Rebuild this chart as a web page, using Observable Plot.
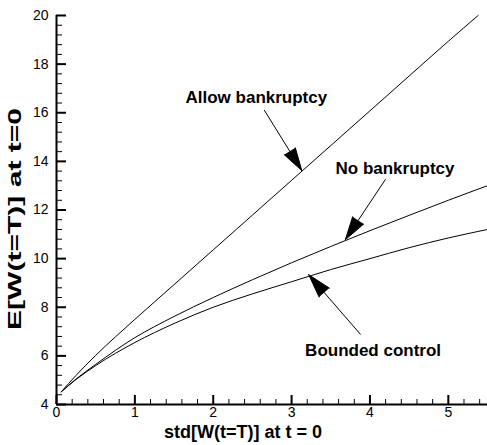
<!DOCTYPE html>
<html>
<head>
<meta charset="utf-8">
<script src="https://cdn.jsdelivr.net/npm/d3@7"></script>
<script src="https://cdn.jsdelivr.net/npm/@observablehq/plot@0.6"></script>
<style>
  body { margin: 0; background: #fff; }
  #chart svg { display: block; }
</style>
</head>
<body>
<div id="chart"></div>
<script>
// ---- data ----
const allowStd  = [0.06, 0.25, 0.5, 1, 1.5, 2, 2.5, 3, 3.5, 4, 4.5, 5, 5.38];
const allowMean = [4.52, 5.2, 6.02, 7.5, 8.93, 10.36, 11.79, 13.22, 14.65, 16.08, 17.51, 18.94, 20.0];

const curveStd    = [0.06, 0.25, 0.5, 1, 1.5, 2, 2.5, 3, 3.5, 4, 4.5, 5, 5.5];
const noBankMean  = [4.52, 5.05, 5.65, 6.75, 7.62, 8.4, 9.13, 9.83, 10.5, 11.15, 11.78, 12.4, 13.0];
const boundedMean = [4.52, 5.03, 5.6, 6.55, 7.33, 8.0, 8.55, 9.05, 9.55, 10.0, 10.45, 10.85, 11.2];

// annotations (data units)
const annLabels = ["Allow bankruptcy", "No bankruptcy", "Bounded control"];
const annLabelX = [2.55, 4.32, 4.04];
const annLabelY = [16.63, 13.71, 6.23];
const arrowX1 = [2.653, 4.196, 3.878];
const arrowY1 = [16.10, 13.25, 6.89];
const arrowX2 = [3.13, 3.686, 3.218];
const arrowY2 = [13.62, 10.78, 9.34];

// ticks
const xMajor = [0, 1, 2, 3, 4, 5];
const yMajor = [4, 6, 8, 10, 12, 14, 16, 18, 20];
const xMinor = d3.range(0, 5.5, 0.2).filter(v => Math.abs(v - Math.round(v)) > 1e-6);
const yMinor = d3.range(4, 20, 0.4).filter(v => Math.abs((v / 2) - Math.round(v / 2)) > 1e-6);

const xTitle = "std[W(t=T)] at t = 0";
const yTitle = "E[W(t=T)] at t=0";

// ---- build tables ----
const lineData = [
  ...allowStd.map((s, i) => ({std: s, mean: allowMean[i], series: "Allow bankruptcy"})),
  ...curveStd.map((s, i) => ({std: s, mean: noBankMean[i], series: "No bankruptcy"})),
  ...curveStd.map((s, i) => ({std: s, mean: boundedMean[i], series: "Bounded control"}))
];
const anns = annLabels.map((t, i) => ({
  text: t, lx: annLabelX[i], ly: annLabelY[i],
  x1: arrowX1[i], y1: arrowY1[i], x2: arrowX2[i], y2: arrowY2[i]
}));

const W = 487, H = 445;
const mL = 56, mR = 0, mT = 15, mB = 41;
const plotW = W - mL - mR, plotH = H - mT - mB;

const chart = Plot.plot({
  width: W,
  height: H,
  marginLeft: mL,
  marginRight: mR,
  marginTop: mT,
  marginBottom: mB,
  style: {fontFamily: "'Liberation Sans', Arial, sans-serif", fontSize: "14px", color: "black", background: "white"},
  x: {domain: [0, 5.5], axis: null},
  y: {domain: [4, 20], axis: null},
  marks: [
    // minor & major ticks (inward)
    Plot.tickY(yMinor, {y: d => d, insetRight: plotW - 6, stroke: "black", strokeWidth: 1}),
    Plot.tickY(yMajor, {y: d => d, insetRight: plotW - 10, stroke: "black", strokeWidth: 2}),
    Plot.tickX(xMinor, {x: d => d, insetTop: plotH - 5, stroke: "black", strokeWidth: 1}),
    Plot.tickX(xMajor, {x: d => d, insetTop: plotH - 9, stroke: "black", strokeWidth: 2}),
    // axis lines
    Plot.ruleX([0], {stroke: "black", strokeWidth: 2}),
    Plot.ruleY([4], {stroke: "black", strokeWidth: 2}),
    // tick labels
    Plot.axisX(xMajor, {tickSize: 0, tickPadding: 3, fontSize: 14, label: null}),
    Plot.axisY(yMajor, {tickSize: 0, tickPadding: 8, fontSize: 14, label: null}),
    // curves
    Plot.line(lineData, {x: "std", y: "mean", z: "series", curve: "monotone-x", stroke: "black", strokeWidth: 1}),
    // annotation arrows
    Plot.arrow(anns, {x1: "x1", y1: "y1", x2: "x2", y2: "y2", headLength: 37, headAngle: 32,
      stroke: "black", fill: "black", strokeWidth: 1}),
    Plot.text(anns, {x: "lx", y: "ly", text: "text", fontWeight: "bold", fontSize: 17, fill: "black"}),
    // axis titles
    Plot.text([xTitle], {frameAnchor: "bottom", dx: -29, dy: 33, fontWeight: "bold", fontSize: 18, fill: "black"}),
    Plot.text([yTitle], {frameAnchor: "left", rotate: -90, textAnchor: "start", dx: -41, dy: 120,
      fontWeight: "bold", fontSize: 18, fill: "black", className: "ytitle"})
  ]
});
// stretch the y title along its direction, as in the reference
d3.select(chart).selectAll(".ytitle text")
  .attr("textLength", 222)
  .attr("lengthAdjust", "spacingAndGlyphs");
document.getElementById("chart").appendChild(chart);
</script>
</body>
</html>
